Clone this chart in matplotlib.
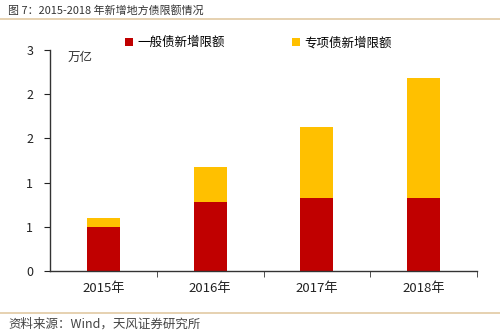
import matplotlib
matplotlib.use("Agg")
import matplotlib.pyplot as plt
from matplotlib.ticker import FuncFormatter, FixedLocator
import numpy as np
import math

plt.rcParams['font.family'] = ['Noto Sans CJK SC', 'DejaVu Sans']

years = ["2015年", "2016年", "2017年", "2018年"]
general = [0.50, 0.78, 0.83, 0.83]
special = [0.10, 0.40, 0.80, 1.35]
yticks = [0, 0.5, 1.0, 1.5, 2.0, 2.5]

red = "#C00000"
yellow = "#FFC000"

fig = plt.figure(figsize=(5, 3.33), dpi=100)
ax = fig.add_axes([0.1, 0.186, 0.854, 0.664])

x = np.arange(len(years))
ax.bar(x, general, width=0.31, color=red, label="一般债新增限额")
ax.bar(x, special, width=0.31, bottom=general, color=yellow, label="专项债新增限额")

ax.set_xlim(-0.5, 3.5)
ax.set_ylim(0, 2.5)
ax.set_yticks(yticks)
# excel style rounding: 0.5 -> 1, 1.5 -> 2, 2.5 -> 3
ax.yaxis.set_major_formatter(FuncFormatter(lambda v, p: "%d" % math.floor(v + 0.5)))
ax.set_xticks(x)
ax.set_xticklabels(years)
ax.xaxis.set_minor_locator(FixedLocator([0.5, 1.5, 2.5, 3.5]))
ax.tick_params(axis="x", which="major", length=0, pad=8, labelsize=9.5, colors="#222222")
ax.tick_params(axis="x", which="minor", length=4, direction="out", color="#333333")
ax.tick_params(axis="y", length=4, direction="out", labelsize=9, pad=8, colors="#222222")
for s in ["top", "right"]:
    ax.spines[s].set_visible(False)
for s in ["left", "bottom"]:
    ax.spines[s].set_color("#333333")
    ax.spines[s].set_linewidth(1.0)

ax.text(0.04, 0.995, "万亿", transform=ax.transAxes, fontsize=9, color="#333333", va="top")

leg = fig.legend(loc="upper left", bbox_to_anchor=(0.228, 0.925), ncol=2, frameon=False,
                 fontsize=9, handlelength=0.6, handleheight=0.6, handletextpad=0.35,
                 columnspacing=5.4)

# header and footer
fig.text(0.016, 0.985, "图 7：2015-2018 年新增地方债限额情况", fontsize=7.9, color="#333333",
         va="top", fontweight="medium")
fig.add_artist(plt.Line2D([0, 1], [0.943, 0.943], color="#E2C9A3", lw=1.2))
fig.add_artist(plt.Line2D([0, 1], [0.06, 0.06], color="#E2C9A3", lw=1.2))
fig.text(0.016, 0.028, "资料来源：Wind，天风证券研究所", fontsize=9, color="#444444", va="center")

fig.savefig("out.png", dpi=100)
